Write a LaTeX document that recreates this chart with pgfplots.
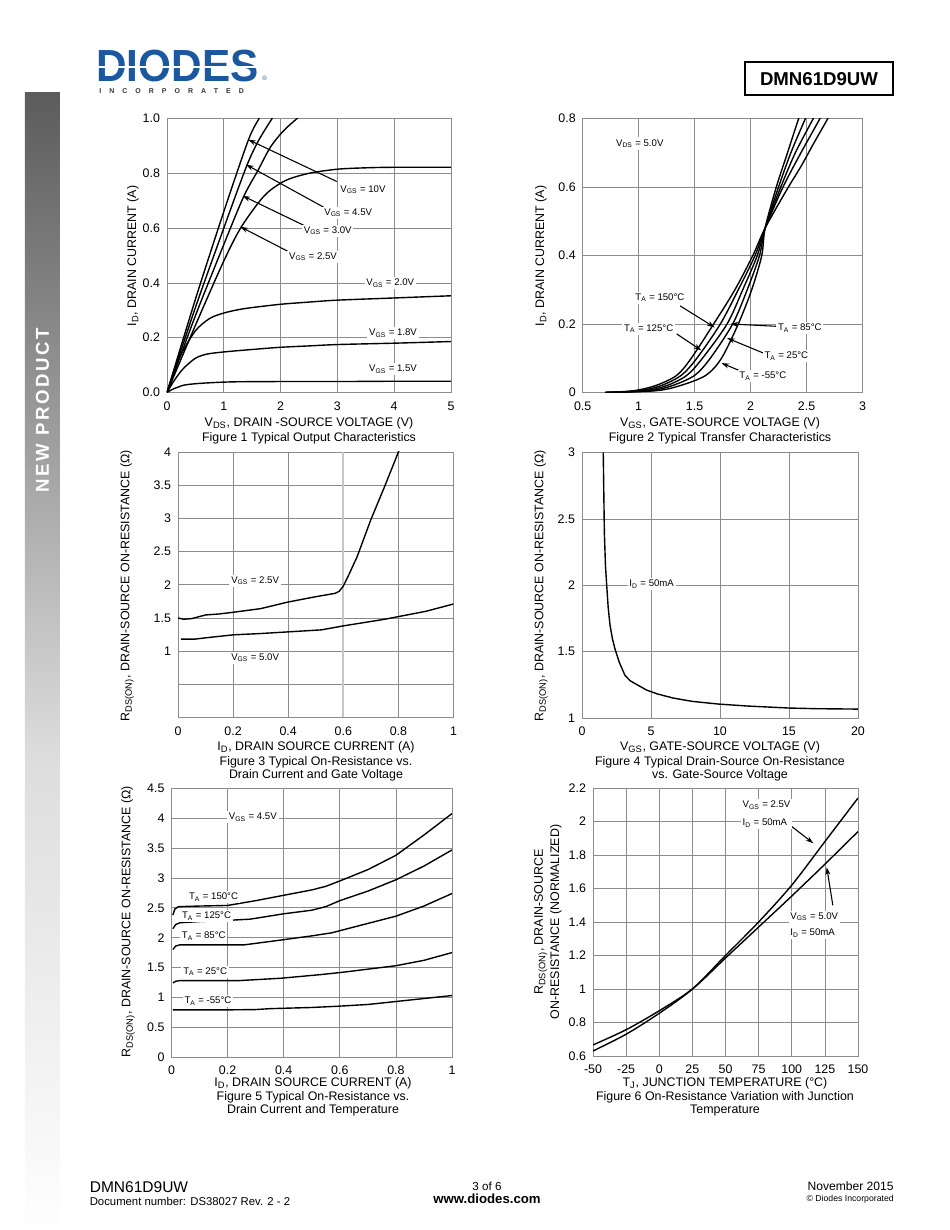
\documentclass[border=0pt]{standalone}
\usepackage{fontspec}
\setmainfont{Liberation Sans}
\usepackage{pgfplots}
\pgfplotsset{compat=1.18}
\usetikzlibrary{arrows.meta}
\definecolor{gridgray}{RGB}{140,140,140}
\definecolor{diodesblue}{RGB}{28,88,160}
\definecolor{barA}{RGB}{92,92,92}
\definecolor{barB}{RGB}{160,160,160}
\definecolor{barC}{RGB}{220,220,220}
\definecolor{barD}{RGB}{254,254,254}
\newcommand{\fs}[1]{\fontsize{#1}{#1}\selectfont}
\tikzset{
  lab/.style={fill=white, inner sep=1.2pt, font=\fs{6.2}},
  arr/.style={-{Stealth[length=5pt,width=3.2pt]}, line width=0.7pt, black},
}
\pgfplotsset{
  ds/.style={
    scale only axis, anchor=south west,
    grid=major,
    major grid style={gridgray, line width=0.45pt},
    axis line style={gridgray, line width=0.6pt},
    tick style={draw=none},
    tick label style={font=\fs{8}},
    xticklabel style={anchor=base, yshift=-11.4pt},
    yticklabel style={xshift=-1pt},
    /pgf/number format/assume math mode=true,
    every axis plot/.append style={black, line width=0.9pt, mark=none},
  },
}
\begin{document}
\begin{tikzpicture}
\path[use as bounding box] (0,0) rectangle (612pt,792.39pt);
\begin{scope}[x=0.644211pt,y=-0.644211pt,yshift=792.39pt]
  % side bar
  \shade[top color=barA, bottom color=barB] (25,93) rectangle (60,450.5);
  \shade[top color=barB, bottom color=barC] (25,450) rectangle (60,750.5);
  \shade[top color=barC, bottom color=barD] (25,750) rectangle (60,1225);
  \node[rotate=90, text=white, font=\bfseries\fs{12}\addfontfeature{LetterSpace=14}] at (42.5,410) {NEW PRODUCT};
  % logo
  \node[anchor=west, font=\bfseries\fs{29}, text=diodesblue, xscale=0.94, inner sep=0] at (96,66.5) {DIODES};
  \draw[white, line width=0.9pt] (96,67) -- (262,67);
  \node[anchor=west, font=\fs{4}, text=diodesblue, inner sep=0] at (262,78) {®};
  \node[anchor=west, font=\bfseries\fs{4.5}\addfontfeature{LetterSpace=115}, text=black!80, inner sep=0] at (99,91) {INCORPORATED};
  % part box
  \draw[line width=0.8pt] (745,62) rectangle (893,95);
  \node[font=\bfseries\fs{12}] at (819,79) {DMN61D9UW};
  % footer
  \node[anchor=west, font=\fs{10}, inner sep=0] at (89.5,1187) {DMN61D9UW};
  \node[anchor=west, font=\fs{7.3}, inner sep=0] at (89.5,1201) {Document number: DS38027 Rev. 2 - 2};
  \node[font=\fs{7.5}, inner sep=0] at (487,1186) {3 of 6};
  \node[font=\bfseries\fs{8.5}, inner sep=0] at (487,1199) {www.diodes.com};
  \node[anchor=east, font=\fs{7.8}, inner sep=0] at (894,1186) {November 2015};
  \node[anchor=east, font=\fs{5.6}, inner sep=0] at (894,1199) {© Diodes Incorporated};
\end{scope}

% ---------------- Figure 1 ----------------
\begin{axis}[ds, at={(107.58pt,539.53pt)}, width=182.96pt, height=176.51pt,
  xmin=0, xmax=5, ymin=0, ymax=1, xtick={0,1,2,3,4,5}, ytick={0,0.2,0.4,0.6,0.8,1},
  yticklabel style={/pgf/number format/.cd, fixed, fixed zerofill, precision=1}]
\addplot[smooth] coordinates {(0,0) (0.5,0.34) (1,0.66) (1.43,0.92) (1.62,1.0) (1.7,1.03)};
\addplot[smooth] coordinates {(0,0) (0.5,0.31) (1,0.6) (1.39,0.82) (1.6,0.915) (1.85,1.0) (1.9,1.015)};
\addplot[smooth] coordinates {(0,0) (0.5,0.28) (1,0.54) (1.35,0.715) (1.6,0.81) (1.82,0.895) (2.05,0.955) (2.29,1.0) (2.4,1.02)};
\addplot[smooth] coordinates {(0,0) (0.5,0.245) (1,0.48) (1.29,0.598) (1.6,0.69) (1.8,0.735) (2.1,0.775) (2.5,0.8) (3,0.815) (3.5,0.82) (4,0.822) (5,0.822)};
\addplot[smooth] coordinates {(0,0) (0.1,0.06) (0.25,0.14) (0.5,0.225) (0.75,0.27) (1.0,0.29) (1.25,0.302) (1.5,0.31) (2,0.322) (2.5,0.33) (3,0.337) (4,0.345) (5,0.353)};
\addplot[smooth] coordinates {(0,0) (0.1,0.035) (0.2,0.065) (0.3,0.09) (0.5,0.125) (0.7,0.14) (1.0,0.148) (1.5,0.157) (2,0.165) (2.5,0.17) (3,0.175) (4,0.18) (5,0.186)};
\addplot[smooth] coordinates {(0,0) (0.1,0.012) (0.2,0.02) (0.3,0.027) (0.5,0.032) (0.8,0.036) (1.2,0.039) (2,0.040) (3,0.040) (4,0.041) (5,0.041)};
\draw[arr] (axis cs:2.99,0.770) -- (axis cs:1.43,0.923);
\draw[arr] (axis cs:2.84,0.667) -- (axis cs:1.39,0.832);
\draw[arr] (axis cs:2.46,0.605) -- (axis cs:1.33,0.718);
\draw[arr] (axis cs:2.14,0.514) -- (axis cs:1.29,0.605);
\node[lab] at (axis cs:3.45,0.74) {V\textsubscript{GS} = 10V};
\node[lab] at (axis cs:3.19,0.656) {V\textsubscript{GS} = 4.5V};
\node[lab] at (axis cs:2.83,0.59) {V\textsubscript{GS} = 3.0V};
\node[lab] at (axis cs:2.57,0.495) {V\textsubscript{GS} = 2.5V};
\node[lab] at (axis cs:3.93,0.40) {V\textsubscript{GS} = 2.0V};
\node[lab] at (axis cs:3.98,0.216) {V\textsubscript{GS} = 1.8V};
\node[lab] at (axis cs:3.98,0.084) {V\textsubscript{GS} = 1.5V};
\end{axis}

% ---------------- Figure 2 ----------------
\begin{axis}[ds, at={(375.38pt,539.53pt)}, width=180.25pt, height=176.51pt,
  xmin=0.5, xmax=3, ymin=0, ymax=0.8, xtick={0.5,1,1.5,2,2.5,3}, ytick={0,0.2,0.4,0.6,0.8}]
\addplot[smooth] coordinates {(0.70,0) (0.95,0.005) (1.15,0.02) (1.34,0.05) (1.47,0.1) (1.67,0.2) (1.86,0.3) (2.02,0.4) (2.13,0.48) (2.32,0.59) (2.45,0.66) (2.56,0.725) (2.69,0.8) (2.75,0.84)};
\addplot[smooth] coordinates {(0.70,0) (1.0,0.005) (1.2,0.02) (1.38,0.05) (1.52,0.1) (1.73,0.2) (1.89,0.3) (2.04,0.4) (2.13,0.48) (2.29,0.6) (2.45,0.7) (2.62,0.8) (2.68,0.84)};
\addplot[smooth] coordinates {(0.70,0) (1.05,0.005) (1.25,0.02) (1.43,0.05) (1.57,0.1) (1.79,0.2) (1.93,0.3) (2.06,0.4) (2.13,0.48) (2.27,0.6) (2.40,0.7) (2.56,0.8) (2.62,0.84)};
\addplot[smooth] coordinates {(0.70,0) (1.1,0.005) (1.3,0.02) (1.5,0.05) (1.64,0.1) (1.84,0.2) (1.97,0.3) (2.08,0.4) (2.13,0.48) (2.25,0.6) (2.36,0.7) (2.49,0.8) (2.55,0.84)};
\addplot[smooth] coordinates {(0.70,0) (1.15,0.005) (1.37,0.02) (1.6,0.05) (1.74,0.1) (1.89,0.2) (2.01,0.3) (2.10,0.4) (2.13,0.48) (2.23,0.6) (2.33,0.7) (2.43,0.8) (2.48,0.84)};
\draw[arr] (axis cs:1.37,0.253) -- (axis cs:1.68,0.19);
\draw[arr] (axis cs:1.34,0.171) -- (axis cs:1.56,0.123);
\draw[arr] (axis cs:2.25,0.193) -- (axis cs:1.82,0.2);
\draw[arr] (axis cs:2.13,0.113) -- (axis cs:1.79,0.159);
\draw[arr] (axis cs:1.93,0.06) -- (axis cs:1.74,0.086);
\node[lab] at (axis cs:1.01,0.727) {V\textsubscript{DS} = 5.0V};
\node[lab] at (axis cs:1.19,0.277) {T\textsubscript{A} = 150°C};
\node[lab] at (axis cs:1.09,0.186) {T\textsubscript{A} = 125°C};
\node[lab] at (axis cs:2.44,0.188) {T\textsubscript{A} = 85°C};
\node[lab] at (axis cs:2.32,0.106) {T\textsubscript{A} = 25°C};
\node[lab] at (axis cs:2.11,0.047) {T\textsubscript{A} = -55°C};
\end{axis}

% ---------------- Figure 3 ----------------
\begin{axis}[ds, at={(114.67pt,330.16pt)}, width=177.48pt, height=171.04pt,
  xmin=0, xmax=1, ymin=0, ymax=4, xtick={0,0.2,0.4,0.6,0.8,1},
  ytick={0,0.5,1,1.5,2,2.5,3,3.5,4}, yticklabels={,,1,1.5,2,2.5,3,3.5,4}]
\draw[black!22, line width=1.4pt] (axis cs:0.6,0) -- (axis cs:0.6,4);
\addplot[sharp plot] coordinates {(0,1.5) (0.02,1.48) (0.05,1.49) (0.1,1.545) (0.15,1.56) (0.2,1.585) (0.3,1.64) (0.4,1.74) (0.5,1.82) (0.57,1.87) (0.585,1.9) (0.6,1.98) (0.62,2.15) (0.65,2.42) (0.7,2.98) (0.75,3.48) (0.8,4.0) (0.81,4.1)};
\addplot[sharp plot] coordinates {(0.01,1.18) (0.06,1.18) (0.1,1.2) (0.2,1.245) (0.3,1.265) (0.4,1.29) (0.52,1.32) (0.6,1.38) (0.75,1.48) (0.9,1.6) (1.0,1.71)};
\node[lab] at (axis cs:0.28,2.06) {V\textsubscript{GS} = 2.5V};
\node[lab] at (axis cs:0.28,0.90) {V\textsubscript{GS} = 5.0V};
\end{axis}

% ---------------- Figure 4 ----------------
\begin{axis}[ds, at={(374.93pt,329.84pt)}, width=177.80pt, height=171.04pt,
  xmin=0, xmax=20, ymin=1, ymax=3, xtick={0,5,10,15,20}, ytick={1,1.5,2,2.5,3}]
\addplot[sharp plot] coordinates {(1.54,3.0) (1.58,2.7) (1.62,2.4) (1.7,2.15) (1.79,2.0) (1.9,1.83) (2.03,1.7) (2.2,1.6) (2.39,1.52) (2.7,1.42) (3.12,1.32) (3.5,1.28) (4,1.25) (4.69,1.21) (5.5,1.18) (6.62,1.15) (8,1.125) (9.88,1.105) (12,1.09) (15,1.075) (17,1.07) (20,1.067)};
\node[lab] at (axis cs:5.05,2.01) {I\textsubscript{D} = 50mA};
\end{axis}

% ---------------- Figure 5 ----------------
\begin{axis}[ds, at={(110.48pt,111.45pt)}, width=180.70pt, height=172.97pt,
  xmin=0, xmax=1, ymin=0, ymax=4.5, xtick={0,0.2,0.4,0.6,0.8,1},
  ytick={0,0.5,1,1.5,2,2.5,3,3.5,4,4.5}]
\addplot[sharp plot] coordinates {(0.005,2.38) (0.012,2.48) (0.025,2.52) (0.1,2.53) (0.2,2.54) (0.3,2.62) (0.4,2.71) (0.5,2.8) (0.55,2.86) (0.6,2.95) (0.7,3.14) (0.8,3.38) (0.9,3.72) (1.0,4.08)};
\addplot[sharp plot] coordinates {(0.005,2.15) (0.015,2.22) (0.03,2.25) (0.1,2.27) (0.2,2.29) (0.28,2.31) (0.4,2.4) (0.5,2.46) (0.55,2.52) (0.6,2.62) (0.7,2.78) (0.8,2.97) (0.9,3.2) (1.0,3.47)};
\addplot[sharp plot] coordinates {(0.005,1.8) (0.015,1.86) (0.03,1.88) (0.26,1.88) (0.39,1.96) (0.5,2.03) (0.57,2.08) (0.66,2.19) (0.8,2.36) (0.9,2.53) (1,2.74)};
\addplot[sharp plot] coordinates {(0.005,1.24) (0.015,1.27) (0.03,1.28) (0.24,1.28) (0.39,1.32) (0.53,1.38) (0.61,1.42) (0.8,1.53) (0.9,1.62) (1,1.75)};
\addplot[sharp plot] coordinates {(0.005,0.79) (0.2,0.79) (0.3,0.795) (0.35,0.81) (0.5,0.83) (0.59,0.85) (0.7,0.88) (0.8,0.93) (0.9,0.98) (1,1.03)};
\node[lab] at (axis cs:0.29,4.02) {V\textsubscript{GS} = 4.5V};
\node[lab] at (axis cs:0.15,2.68) {T\textsubscript{A} = 150°C};
\node[lab] at (axis cs:0.125,2.36) {T\textsubscript{A} = 125°C};
\node[lab] at (axis cs:0.115,2.03) {T\textsubscript{A} = 85°C};
\node[lab] at (axis cs:0.12,1.43) {T\textsubscript{A} = 25°C};
\node[lab] at (axis cs:0.13,0.94) {T\textsubscript{A} = -55°C};
\end{axis}

% ---------------- Figure 6 ----------------
\begin{axis}[ds, at={(382.02pt,112.09pt)}, width=170.72pt, height=172.65pt,
  xmin=-50, xmax=150, ymin=0.6, ymax=2.2, xtick={-50,-25,0,25,50,75,100,125,150},
  ytick={0.6,0.8,1,1.2,1.4,1.6,1.8,2,2.2}]
\addplot[smooth] coordinates {(-50,0.63) (-25,0.73) (0,0.855) (25,1.0) (50,1.2) (75,1.4) (100,1.62) (125,1.88) (150,2.14)};
\addplot[smooth] coordinates {(-50,0.666) (-25,0.757) (0,0.87) (25,1.0) (50,1.185) (75,1.37) (100,1.555) (125,1.745) (150,1.94)};
\draw[arr] (axis cs:100,1.97) -- (axis cs:116.3,1.87);
\draw[arr] (axis cs:131,1.50) -- (axis cs:126.4,1.727);
\node[lab, align=left, font=\fontsize{6.2}{11.6}\selectfont] at (axis cs:81,2.045) {V\textsubscript{GS} = 2.5V\\I\textsubscript{D} = 50mA};
\node[lab, align=left, font=\fontsize{6.2}{10.7}\selectfont] at (axis cs:117,1.382) {V\textsubscript{GS} = 5.0V\\I\textsubscript{D} = 50mA};
\end{axis}

% ---------------- axis labels and captions ----------------
\begin{scope}[x=0.644211pt,y=-0.644211pt,yshift=792.39pt, every node/.style={font=\fs{8}, inner sep=0}]
  \node[rotate=90] at (133,256) {I\textsubscript{D}, DRAIN CURRENT (A)};
  \node at (309,423) {V\textsubscript{DS}, DRAIN -SOURCE VOLTAGE (V)};
  \node at (309,438) {Figure 1 Typical Output Characteristics};
  \node[rotate=90] at (541,256) {I\textsubscript{D}, DRAIN CURRENT (A)};
  \node at (720,423) {V\textsubscript{GS}, GATE-SOURCE VOLTAGE (V)};
  \node at (720,438) {Figure 2 Typical Transfer Characteristics};
  \node[rotate=90] at (127,586) {R\textsubscript{DS(ON)}, DRAIN-SOURCE ON-RESISTANCE (Ω)};
  \node at (316,747) {I\textsubscript{D}, DRAIN SOURCE CURRENT (A)};
  \node at (316,762) {Figure 3 Typical On-Resistance vs.};
  \node at (316,775) {Drain Current and Gate Voltage};
  \node[rotate=90] at (541,586) {R\textsubscript{DS(ON)}, DRAIN-SOURCE ON-RESISTANCE (Ω)};
  \node at (720,747) {V\textsubscript{GS}, GATE-SOURCE VOLTAGE (V)};
  \node at (720,762) {Figure 4 Typical Drain-Source On-Resistance};
  \node at (720,775) {vs. Gate-Source Voltage};
  \node[rotate=90] at (128,922) {R\textsubscript{DS(ON)}, DRAIN-SOURCE ON-RESISTANCE (Ω)};
  \node at (313,1083) {I\textsubscript{D}, DRAIN SOURCE CURRENT (A)};
  \node at (313,1097) {Figure 5 Typical On-Resistance vs.};
  \node at (313,1110) {Drain Current and Temperature};
  \node[rotate=90, align=center, font=\fontsize{8}{10.5}\selectfont] at (548,922) {R\textsubscript{DS(ON)}, DRAIN-SOURCE\\ON-RESISTANCE (NORMALIZED)};
  \node at (725,1083) {T\textsubscript{J}, JUNCTION TEMPERATURE (°C)};
  \node at (725,1097) {Figure 6 On-Resistance Variation with Junction};
  \node at (725,1111) {Temperature};
\end{scope}
\end{tikzpicture}
\end{document}
